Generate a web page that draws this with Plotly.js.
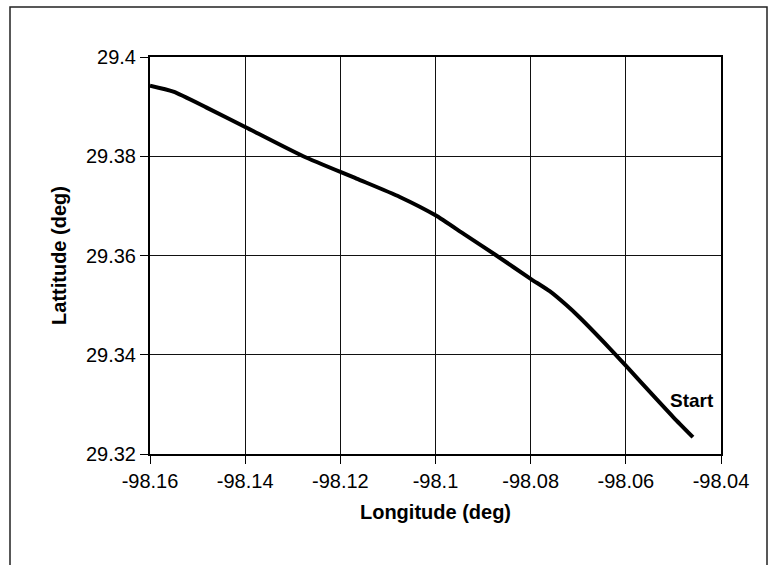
<!DOCTYPE html>
<html>
<head>
<meta charset="utf-8">
<script src="https://cdn.plot.ly/plotly-3.0.1.min.js"></script>
<style>
  html, body { margin: 0; padding: 0; background: #fff; }
  #chart { width: 770px; height: 565px; }
</style>
</head>
<body>
<div id="chart"></div>
<script>
// Track, listed from the start point (east) towards the west
const longitude = [-98.0459, -98.0500, -98.0536, -98.0600, -98.0634, -98.0697, -98.0725, -98.0760, -98.0800, -98.0872, -98.0940, -98.1000, -98.1075, -98.1166, -98.1278, -98.1400, -98.1481, -98.1551, -98.1600];
const latitude  = [29.3234, 29.3274, 29.3311, 29.3378, 29.3413, 29.3475, 29.3500, 29.3528, 29.3553, 29.3600, 29.3643, 29.3681, 29.3718, 29.3755, 29.3800, 29.3859, 29.3898, 29.3930, 29.3942];
const xTicks = [-98.16, -98.14, -98.12, -98.1, -98.08, -98.06, -98.04];
const yTicks = [29.32, 29.34, 29.36, 29.38, 29.4];
const startLabel = "Start";
const startPos = [-98.0461, 29.3307];

const W = 770, H = 565;
const M = {l: 150, r: 49, t: 57, b: 111};
const pw = W - M.l - M.r, ph = H - M.t - M.b;
const px = v => (v - M.l) / pw;
const py = v => (H - M.b - v) / ph;

const font = "Liberation Sans, Arial, Helvetica, sans-serif";

const trace = {
  x: longitude, y: latitude,
  type: 'scatter', mode: 'lines',
  line: {color: '#000', width: 4, shape: 'spline', smoothing: 0.6},
  hoverinfo: 'skip', showlegend: false
};

const axisCommon = {
  showline: true, linecolor: '#000', linewidth: 2, mirror: true,
  showgrid: true, gridcolor: '#111', gridwidth: 1,
  zeroline: false,
  ticks: 'outside', ticklen: 8, tickcolor: '#000', tickwidth: 1,
  tickfont: {family: font, size: 20, color: '#000'},
  tickmode: 'array'
};

const layout = {
  width: W, height: H,
  margin: M,
  paper_bgcolor: '#fff', plot_bgcolor: '#fff',
  font: {family: font, color: '#000'},
  xaxis: Object.assign({}, axisCommon, {
    range: [-98.16, -98.04],
    tickvals: xTicks, ticktext: xTicks.map(String),
    title: {text: 'Longitude (deg)', font: {family: font, size: 20, color: '#000', weight: 'bold'}, standoff: 14}
  }),
  yaxis: Object.assign({}, axisCommon, {
    range: [29.32, 29.4],
    tickvals: yTicks, ticktext: yTicks.map(String),
    title: {text: 'Lattitude (deg)', font: {family: font, size: 20, color: '#000', weight: 'bold'}, standoff: 14}
  }),
  annotations: [{
    x: startPos[0], y: startPos[1], xref: 'x', yref: 'y',
    text: '<b>' + startLabel + '</b>', showarrow: false,
    font: {family: font, size: 19, color: '#000'},
    xanchor: 'center', yanchor: 'middle'
  }],
  shapes: [{
    type: 'rect', xref: 'paper', yref: 'paper',
    x0: px(10), x1: px(767), y0: py(575), y1: py(7),
    line: {color: '#222', width: 1.5}, fillcolor: 'rgba(0,0,0,0)', layer: 'below'
  }]
};

Plotly.newPlot('chart', [trace], layout, {staticPlot: true, displayModeBar: false});
</script>
</body>
</html>
